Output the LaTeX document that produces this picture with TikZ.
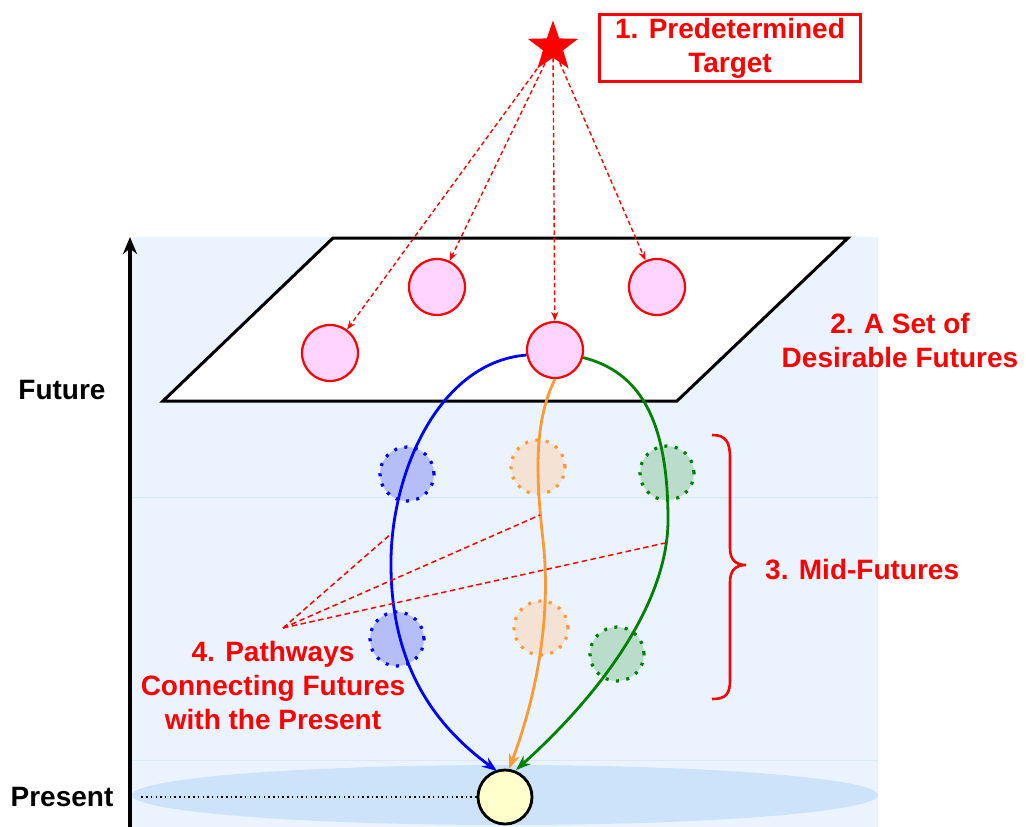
\documentclass[tikz,border=0pt]{standalone}
\usepackage{fontspec}
\setmainfont{Liberation Sans}
\usetikzlibrary{shapes.geometric,arrows.meta}
\definecolor{bgblue}{HTML}{EBF4FE}
\definecolor{bandline}{HTML}{D8E9FA}
\definecolor{ellblue}{HTML}{CCE3FA}
\definecolor{pinkfill}{HTML}{FFD4FF}
\definecolor{yellowfill}{HTML}{FFFFCC}
\definecolor{pblue}{HTML}{0000FF}
\definecolor{porange}{HTML}{FF9933}
\definecolor{pgreen}{HTML}{008000}
\definecolor{fblue}{HTML}{B6BEF8}
\definecolor{forange}{HTML}{F4E2D4}
\definecolor{fgreen}{HTML}{BADDCB}
\tikzset{
  lbl/.style={font=\fontsize{28}{34}\selectfont\bfseries, text=red, align=center, inner sep=0pt},
  axlbl/.style={font=\fontsize{28}{34}\selectfont\bfseries, text=black, inner sep=0pt},
  desired/.style={circle, draw=red, line width=2.2pt, fill=pinkfill, minimum size=56pt, inner sep=0pt},
  midf/.style={circle, line width=3.2pt, dash pattern=on 3pt off 7.5pt, minimum size=54pt, inner sep=0pt},
  targetline/.style={red, line width=1.4pt, dash pattern=on 4.5pt off 3pt, -{Stealth[length=9pt,width=7pt]}},
  pathline/.style={line width=2.8pt, -{Stealth[length=15pt,width=11pt]}},
  pwline/.style={red, line width=1.5pt, dash pattern=on 5.5pt off 3.5pt},
}
\begin{document}
\begin{tikzpicture}[x=1pt,y=-1pt]
\useasboundingbox (0,0) rectangle (1026,827);
% background
\fill[bgblue] (132,237) rectangle (878,827);
\draw[bandline, line width=1pt] (132,497) -- (878,497);
\draw[bandline, line width=1pt] (132,760) -- (878,760);
\fill[ellblue] (505,795) ellipse [x radius=373, y radius=30];
% time axis
\draw[line width=3.5pt, -{Stealth[length=17pt,width=14pt]}] (130,827) -- (130,237);
\node[axlbl] (future) at (62,390) {Future};
\node[axlbl] (present) at (62,797) {Present};
% plane
\draw[line width=3pt, fill=white, line join=miter] (333,238) -- (848,238) -- (677,401) -- (163,401) -- cycle;
% target
\node[star, star points=5, star point ratio=2.5, fill=red, minimum size=53pt, inner sep=0pt] (star) at (553,47) {};
\node[lbl, draw=red, line width=2.4pt, minimum width=261pt, minimum height=67pt] (t1) at (730,48) {1. Predetermined\\Target};
% desirable futures
\node[desired] (d1) at (437,287) {};
\node[desired] (d2) at (657,287) {};
\node[desired] (d3) at (330,353) {};
\node[desired] (d4) at (555,350) {};
\node[lbl] (t2) at (900,340) {2. A Set of\\Desirable Futures};
\draw[targetline] (star) -- (d3);
\draw[targetline] (star) -- (d1);
\draw[targetline] (star) -- (d4);
\draw[targetline] (star) -- (d2);
% mid futures
\node[midf, draw=pblue, fill=fblue] (mb1) at (407,474) {};
\node[midf, draw=porange, fill=forange] (mo1) at (538,467) {};
\node[midf, draw=pgreen, fill=fgreen] (mg1) at (667,473) {};
\node[midf, draw=pblue, fill=fblue] (mb2) at (397,639) {};
\node[midf, draw=porange, fill=forange] (mo2) at (541,628) {};
\node[midf, draw=pgreen, fill=fgreen] (mg2) at (617,654) {};
% present
\node[circle, draw=black, line width=2.8pt, fill=yellowfill, minimum size=54pt, inner sep=0pt] (now) at (505,797) {};
\coordinate (dl) at (140,797);
\draw[line width=1.5pt, dash pattern=on 1.5pt off 3.2pt] (now.west) -- (dl);
% pathways
\coordinate (eb) at (497,771);
\coordinate (eo) at (509,769);
\coordinate (eg) at (516,770);
\draw[pathline, pblue] (d4.190) .. controls (440,362) and (392,470) .. (391,560) .. controls (390,660) and (430,722) .. (eb);
\draw[pathline, porange] (d4.south) .. controls (535,420) and (535,470) .. (543,540) .. controls (552,620) and (535,700) .. (eo);
\draw[pathline, pgreen] (d4.-15) .. controls (640,372) and (668,420) .. (668,520) .. controls (668,600) and (605,690) .. (eg);
% pathway labels
\coordinate (pw) at (283,628);
\coordinate (pa) at (392,533);
\coordinate (pb) at (540,515);
\coordinate (pc) at (665,543);
\draw[pwline] (pw) -- (pa);
\draw[pwline] (pw) -- (pb);
\draw[pwline] (pw) -- (pc);
\node[lbl] (t4) at (273,685) {4. Pathways\\Connecting Futures\\with the Present};
% brace
\draw[red, line width=2.6pt] (712,435) .. controls (726,435) and (730,442) .. (730,458) -- (730,548) .. controls (730,560) and (736,565) .. (746,565) .. controls (736,565) and (730,570) .. (730,582) -- (730,680) .. controls (730,694) and (726,699) .. (712,699);
\node[lbl, anchor=west] (t3) at (765,570) {3. Mid-Futures};
\end{tikzpicture}
\end{document}
